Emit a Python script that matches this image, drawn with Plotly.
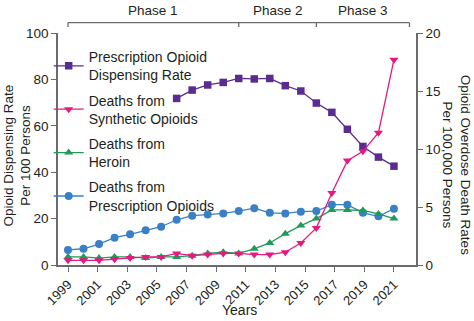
import numpy as np
import plotly.graph_objects as go

# Data years and tick labels used on the x axis
years = [1999, 2000, 2001, 2002, 2003, 2004, 2005, 2006, 2007, 2008, 2009,
         2010, 2011, 2012, 2013, 2014, 2015, 2016, 2017, 2018, 2019, 2020]
tick_labels = ["1999", "2001", "2003", "2005", "2007", "2009",
               "2011", "2013", "2015", "2017", "2019", "2021"]

# Prescription opioid dispensing rate (per 100 persons), available from 2006
dispensing_years = [2006, 2007, 2008, 2009, 2010, 2011, 2012, 2013,
                    2014, 2015, 2016, 2017, 2018, 2019, 2020]
dispensing_rate = [71.8, 75.4, 77.6, 78.7, 80.4, 80.2, 80.4, 77.3,
                   75.0, 69.8, 65.8, 58.5, 51.1, 46.5, 42.6]

# Overdose death rates (per 100,000 persons)
synthetic_deaths = [0.4, 0.4, 0.4, 0.5, 0.6, 0.7, 0.7, 1.0, 0.8, 0.9, 1.0,
                    1.0, 0.9, 0.9, 1.1, 1.9, 3.2, 6.2, 9.0, 9.8, 11.4, 17.7]
heroin_deaths = [0.7, 0.7, 0.6, 0.7, 0.7, 0.6, 0.7, 0.7, 0.8, 1.0, 1.1,
                 1.0, 1.4, 1.9, 2.7, 3.4, 4.0, 4.75, 4.75, 4.7, 4.4, 4.0]
rx_deaths = [1.3, 1.4, 1.8, 2.35, 2.65, 3.0, 3.3, 3.9, 4.25, 4.35, 4.45,
             4.65, 4.9, 4.5, 4.45, 4.6, 4.65, 5.2, 5.2, 4.5, 4.2, 4.85]

# Phases shown in the bracket above the plot: (label, start, end)
phase_names = ["Phase 1", "Phase 2", "Phase 3"]
phase_bounds = [1999, 2010, 2015, 2021]

PURPLE = "#5B2C8F"
PINK = "#E6197F"
GREEN = "#1E9B5A"
BLUE = "#3A80C6"
AXIS = "#6b6b6b"
TEXT = "#231f20"
FONT = "Liberation Sans, Arial, sans-serif"

fig = go.Figure()

line_w = 1.3
fig.add_trace(go.Scatter(
    x=years, y=rx_deaths, yaxis="y2", mode="lines+markers",
    name="Deaths from<br>Prescription Opioids", legendrank=4, legendgroup="rx",
    line=dict(color=BLUE, width=line_w),
    marker=dict(symbol="circle", size=8, color=BLUE)))
fig.add_trace(go.Scatter(
    x=years, y=heroin_deaths, yaxis="y2", mode="lines+markers",
    name="Deaths from<br>Heroin", legendrank=3, legendgroup="heroin",
    line=dict(color=GREEN, width=line_w),
    marker=dict(symbol="triangle-up", size=8, color=GREEN)))
fig.add_trace(go.Scatter(
    x=dispensing_years, y=dispensing_rate, yaxis="y", mode="lines+markers",
    name="Prescription Opioid<br>Dispensing Rate", legendrank=1,
    legendgroup="dispensing",
    line=dict(color=PURPLE, width=line_w),
    marker=dict(symbol="square", size=7.5, color=PURPLE)))
fig.add_trace(go.Scatter(
    x=years, y=synthetic_deaths, yaxis="y2", mode="lines+markers",
    name="Deaths from<br>Synthetic Opioids", legendrank=2,
    legendgroup="synthetic",
    line=dict(color=PINK, width=line_w),
    marker=dict(symbol="triangle-down", size=8, color=PINK)))

# Phase bracket drawn above the plot area
shapes = []
for b in phase_bounds:
    shapes.append(dict(type="line", xref="x", yref="paper", x0=b, x1=b,
                       y0=1.026, y1=1.045, line=dict(color=AXIS, width=1.3)))
shapes.append(dict(type="line", xref="x", yref="paper",
                   x0=phase_bounds[0], x1=phase_bounds[-1],
                   y0=1.045, y1=1.045, line=dict(color=AXIS, width=1.3)))

annotations = []
for name, a, b in zip(phase_names, phase_bounds[:-1], phase_bounds[1:]):
    annotations.append(dict(text=name, xref="x", yref="paper",
                            x=(a + b) / 2, y=1.095, showarrow=False,
                            xanchor="center", yanchor="middle",
                            font=dict(size=13.5, color=TEXT, family=FONT)))

# Axis titles
annotations.append(dict(text="Opioid Dispensing Rate<br>Per 100 Persons",
                        xref="paper", yref="paper", x=-0.113, y=0.47,
                        textangle=-90, showarrow=False,
                        xanchor="center", yanchor="middle",
                        font=dict(size=13.5, color=TEXT, family=FONT)))
annotations.append(dict(text="Opioid Overdose Death Rates<br>Per 100,000 Persons",
                        xref="paper", yref="paper", x=1.113, y=0.43,
                        textangle=90, showarrow=False,
                        xanchor="center", yanchor="middle",
                        font=dict(size=13.5, color=TEXT, family=FONT)))
annotations.append(dict(text="Years", xref="paper", yref="paper",
                        x=0.508, y=-0.194, showarrow=False,
                        xanchor="center", yanchor="middle",
                        font=dict(size=14, color=TEXT, family=FONT)))

tick_pos = list(np.linspace(years[0], years[-1], len(tick_labels)))

fig.update_layout(
    width=474, height=321,
    margin=dict(l=58, r=58, t=33, b=56),
    paper_bgcolor="white", plot_bgcolor="white",
    font=dict(family=FONT, color=TEXT, size=13),
    showlegend=True,
    legend=dict(x=-0.026, y=0.965, xanchor="left", yanchor="top",
                bgcolor="rgba(0,0,0,0)", tracegroupgap=4,
                font=dict(size=14, color=TEXT, family=FONT)),
    xaxis=dict(range=[1998.356, 2021.42], tickmode="array",
               tickvals=tick_pos, ticktext=tick_labels, tickangle=-45,
               showline=True, linecolor=AXIS, linewidth=1.5,
               ticks="outside", ticklen=5, tickcolor=AXIS, tickwidth=1.3,
               showgrid=False, zeroline=False,
               tickfont=dict(size=13, color=TEXT)),
    yaxis=dict(range=[0, 100], dtick=20, showline=True, linecolor=AXIS,
               linewidth=1.5, ticks="outside", ticklen=5, tickcolor=AXIS,
               tickwidth=1.3, showgrid=False, zeroline=False,
               tickfont=dict(size=13.5, color=TEXT)),
    yaxis2=dict(range=[0, 20], dtick=5, overlaying="y", side="right",
                showline=True, linecolor=AXIS, linewidth=1.5,
                ticks="outside", ticklen=5, tickcolor=AXIS, tickwidth=1.3,
                showgrid=False, zeroline=False,
                tickfont=dict(size=13.5, color=TEXT)),
    shapes=shapes,
    annotations=annotations,
)

fig.write_html("out.html")
